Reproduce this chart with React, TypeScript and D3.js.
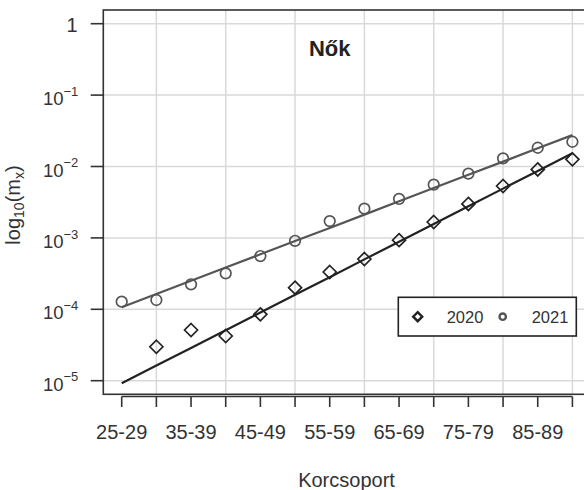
import React from "react";
import { scaleLog, scalePoint, line } from "d3";

// age groups on the x axis
const ageGroups = [
  "25-29", "30-34", "35-39", "40-44", "45-49", "50-54", "55-59",
  "60-64", "65-69", "70-74", "75-79", "80-84", "85-89", "90-94",
];

// observed death rates (m_x), women
const obs2020: (number | null)[] = [
  null, 2.99e-5, 5.13e-5, 4.23e-5, 8.5e-5, 2.01e-4, 3.33e-4,
  5.06e-4, 9.3e-4, 1.67e-3, 2.99e-3, 5.33e-3, 9.1e-3, 1.26e-2,
];
const obs2021 = [
  1.28e-4, 1.35e-4, 2.24e-4, 3.19e-4, 5.57e-4, 9.1e-4, 1.72e-3,
  2.57e-3, 3.51e-3, 5.56e-3, 7.94e-3, 1.3e-2, 1.83e-2, 2.22e-2,
];

// fitted curves
const fit2020 = [
  9.2e-6, 1.63e-5, 2.88e-5, 5.09e-5, 9.0e-5, 1.6e-4, 2.82e-4,
  5.0e-4, 8.85e-4, 1.57e-3, 2.77e-3, 4.9e-3, 8.67e-3, 1.53e-2,
];
const fit2021 = [
  1.07e-4, 1.64e-4, 2.51e-4, 3.85e-4, 5.89e-4, 9.03e-4, 1.38e-3,
  2.12e-3, 3.26e-3, 4.99e-3, 7.66e-3, 1.17e-2, 1.8e-2, 2.75e-2,
];

const yTicks = [1, 1e-1, 1e-2, 1e-3, 1e-4, 1e-5];
const yExp = ["0", "\u22121", "\u22122", "\u22123", "\u22124", "\u22125"];

const font = "'Liberation Sans', Arial, Helvetica, sans-serif";
const col2020 = "#222";
const col2021 = "#555";
const txt = "#333";

export default function App() {
  // plot box
  const box = { left: 103.3, top: 10, right: 590, bottom: 394.3 };

  const x = scalePoint<string>().domain(ageGroups).range([121.7, 572.4]);
  const y = scaleLog().domain([1e-5, 1]).range([380.7, 23.7]);

  const fitLine = line<number>()
    .x((_, i) => x(ageGroups[i]) as number)
    .y((d) => y(d));

  const diamond = (cx: number, cy: number, r: number) =>
    `M${cx},${cy - r}L${cx + r},${cy}L${cx},${cy + r}L${cx - r},${cy}Z`;

  return (
    <svg
      width={584}
      height={490}
      style={{ position: "absolute", left: 0, top: 0, display: "block", background: "#fff" }}
      fontFamily={font}
    >
      {/* grid */}
      {ageGroups.map((g, i) =>
        i % 2 === 1 ? (
          <line key={"vg" + g} x1={x(g)} x2={x(g)} y1={box.top} y2={box.bottom}
            stroke="#d9d9d9" strokeWidth={1.5} />
        ) : null
      )}
      {yTicks.map((t) => (
        <line key={"hg" + t} x1={box.left} x2={box.right} y1={y(t)} y2={y(t)}
          stroke="#d9d9d9" strokeWidth={1.5} />
      ))}

      {/* fitted lines */}
      <path d={fitLine(fit2021) || ""} fill="none" stroke={col2021} strokeWidth={2.2} />
      <path d={fitLine(fit2020) || ""} fill="none" stroke={col2020} strokeWidth={2.2} />

      {/* observed points */}
      {obs2021.map((v, i) => (
        <circle key={"c" + i} cx={x(ageGroups[i])} cy={y(v)} r={5.3}
          fill="none" stroke={col2021} strokeWidth={1.7} />
      ))}
      {obs2020.map((v, i) =>
        v == null ? null : (
          <path key={"d" + i} d={diamond(x(ageGroups[i]) as number, y(v), 6.5)}
            fill="none" stroke={col2020} strokeWidth={1.7} />
        )
      )}

      {/* box */}
      <rect x={box.left} y={box.top} width={box.right - box.left} height={box.bottom - box.top}
        fill="none" stroke={txt} strokeWidth={1.6} />

      {/* y axis */}
      {yTicks.map((t, i) => (
        <g key={"yt" + t}>
          <line x1={90.7} x2={box.left} y1={y(t)} y2={y(t)} stroke={txt} strokeWidth={1.6} />
          {i === 0 ? (
            <text x={77.5} y={y(t) + 8} textAnchor="end" fontSize={20} fill={txt}>1</text>
          ) : (
            <text x={78.3} y={y(t) + 10} textAnchor="end" fontSize={18.5} fill={txt}>
              10
              <tspan fontSize={13} dy={-9.3}>{yExp[i]}</tspan>
            </text>
          )}
        </g>
      ))}

      {/* x axis */}
      <line x1={x(ageGroups[0])} x2={x(ageGroups[ageGroups.length - 1])} y1={396.5} y2={396.5}
        stroke={txt} strokeWidth={1.6} />
      {ageGroups.map((g, i) => (
        <g key={"xt" + g}>
          <line x1={x(g)} x2={x(g)} y1={396.5} y2={407} stroke={txt} strokeWidth={1.6} />
          {i % 2 === 0 ? (
            <text x={x(g)} y={439} textAnchor="middle" fontSize={20} fill={txt}>{g}</text>
          ) : null}
        </g>
      ))}

      {/* axis titles */}
      <text x={346.5} y={487} textAnchor="middle" fontSize={20} fill={txt}>Korcsoport</text>
      <text transform="translate(20,205) rotate(-90)" textAnchor="middle" fontSize={20} fill={txt}>
        log
        <tspan fontSize={14} dy={4}>10</tspan>
        <tspan dy={-4}>(m</tspan>
        <tspan fontSize={14} dy={4}>x</tspan>
        <tspan dy={-4}>)</tspan>
      </text>

      {/* panel title */}
      <text x={329.7} y={56} textAnchor="middle" fontSize={22} fontWeight="bold" fill="#222">Nők</text>

      {/* legend */}
      <rect x={398.3} y={297.3} width={178} height={38.7} fill="#fff" stroke="#222" strokeWidth={1.6} />
      <path d={diamond(417.7, 316.7, 4.5)} fill="none" stroke={col2020} strokeWidth={2.4} />
      <text x={446.7} y={323.3} fontSize={16.5} fill={txt}>2020</text>
      <circle cx={502.7} cy={316.7} r={3.2} fill="none" stroke={col2021} strokeWidth={2.4} />
      <text x={531.7} y={323.3} fontSize={16.5} fill={txt}>2021</text>
    </svg>
  );
}
